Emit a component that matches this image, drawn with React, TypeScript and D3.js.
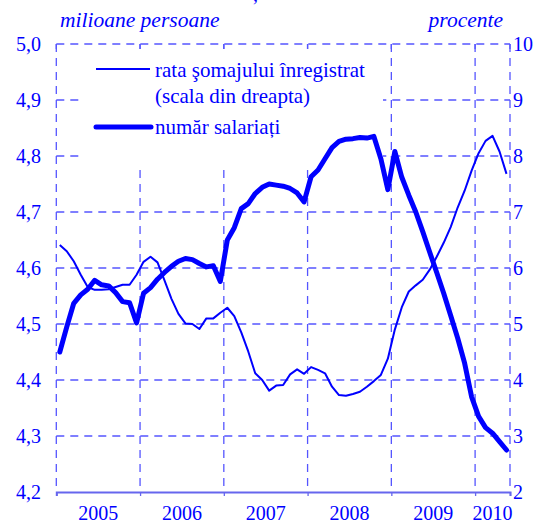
import React, { useEffect, useRef } from "react";
import * as d3 from "d3";

// monthly, Jan 2005 - May 2010
const employees = [
  4.45, 4.495, 4.537, 4.552, 4.562, 4.578, 4.57, 4.568, 4.556, 4.54, 4.538, 4.502,
  4.555, 4.565, 4.58, 4.592, 4.603, 4.612, 4.617, 4.615, 4.608, 4.602, 4.604, 4.576,
  4.65, 4.672, 4.706, 4.715, 4.733, 4.744, 4.75, 4.748, 4.746, 4.742, 4.734, 4.718,
  4.763, 4.775, 4.795, 4.815, 4.826, 4.83, 4.831, 4.833, 4.832, 4.835, 4.795, 4.74,
  4.808, 4.762, 4.73, 4.7, 4.665, 4.628, 4.592, 4.555, 4.515, 4.475, 4.43, 4.37,
  4.335, 4.315, 4.305, 4.29, 4.275,
];
const unemployment = [
  6.41, 6.3, 6.12, 5.88, 5.66, 5.61, 5.61, 5.62, 5.66, 5.7, 5.7, 5.88,
  6.11, 6.2, 6.1, 5.78, 5.45, 5.18, 5.01, 5.0, 4.91, 5.1, 5.1, 5.2,
  5.29, 5.14, 4.85, 4.51, 4.12, 4.0, 3.81, 3.9, 3.91, 4.1, 4.19, 4.11,
  4.23, 4.18, 4.12, 3.88, 3.73, 3.72, 3.75, 3.79, 3.88, 3.98, 4.09, 4.38,
  4.9, 5.3, 5.58, 5.69, 5.79, 5.97, 6.2, 6.45, 6.73, 7.08, 7.38, 7.74,
  8.05, 8.27, 8.36, 8.08, 7.68,
];
const years = ["2005", "2006", "2007", "2008", "2009", "2010"];
const leftTicks = [4.2, 4.3, 4.4, 4.5, 4.6, 4.7, 4.8, 4.9, 5.0];
const rightTicks = [2, 3, 4, 5, 6, 7, 8, 9, 10];
const legendLabels = ["rata şomajului înregistrat", "(scala din dreapta)", "număr salariați"];

const BLUE = "#0000ff";
const GRID = "#5555ff";
const FONT = "'Liberation Serif', 'Times New Roman', serif";

export default function App() {
  const ref = useRef<SVGSVGElement>(null);

  useEffect(() => {
    const svg = d3.select(ref.current);
    svg.selectAll("*").remove();

    const left = 56.3, right = 510, top = 44, bottom = 492;
    const nMonths = 65;
    const x = d3.scaleLinear().domain([0, nMonths]).range([left, right]);
    const yL = d3.scaleLinear().domain([4.2, 5.0]).range([bottom, top]);
    const yR = d3.scaleLinear().domain([2, 10]).range([bottom, top]);
    const bounds = years.map((_, i) => i * 12);

    const grid = svg.append("g").attr("stroke", GRID).attr("stroke-width", 1.3)
      .attr("stroke-dasharray", "8,6").attr("fill", "none");
    leftTicks.slice(1, -1).forEach(v => {
      grid.append("line").attr("x1", left).attr("x2", right).attr("y1", yL(v)).attr("y2", yL(v));
    });
    bounds.slice(1).concat([0, nMonths]).forEach(m => {
      grid.append("line").attr("x1", x(m)).attr("x2", x(m)).attr("y1", top).attr("y2", bottom);
    });

    // legend box hides the grid behind it
    svg.append("rect").attr("x", 80).attr("y", 49).attr("width", 303).attr("height", 119).attr("fill", "#fff");

    svg.append("line").attr("x1", left).attr("x2", right).attr("y1", top).attr("y2", top)
      .attr("stroke", GRID).attr("stroke-width", 1.3).attr("stroke-dasharray", "8,6");
    bounds.concat([nMonths]).forEach(m => {
      svg.append("line").attr("x1", x(m)).attr("x2", x(m)).attr("y1", top).attr("y2", top + 5)
        .attr("stroke", GRID).attr("stroke-width", 1.3);
    });

    // bottom axis
    const xAxis = d3.axisBottom(x).tickValues(bounds.concat([nMonths])).tickSize(4).tickFormat(() => "");
    const gx = svg.append("g").attr("transform", `translate(0,${bottom})`).call(xAxis);
    gx.select(".domain").attr("stroke", "#6666ee").attr("stroke-width", 2);
    gx.selectAll(".tick line").attr("stroke", "#6666ee").attr("stroke-width", 1.3);

    const text = svg.append("g").attr("fill", BLUE).attr("font-family", FONT).attr("font-size", 20);
    years.forEach((yr, i) => {
      const m0 = i * 12, m1 = Math.min((i + 1) * 12, nMonths);
      text.append("text").attr("x", x((m0 + m1) / 2)).attr("y", 520).attr("text-anchor", "middle").text(yr);
    });
    leftTicks.forEach(v => {
      text.append("text").attr("x", 41).attr("y", yL(v) + 7).attr("text-anchor", "end")
        .text(v.toFixed(1).replace(".", ","));
    });
    rightTicks.forEach(v => {
      text.append("text").attr("x", 513).attr("y", yR(v) + 7).text(String(v));
    });
    text.append("text").attr("x", 60).attr("y", 27).attr("font-size", 21.5).attr("font-style", "italic").text("milioane persoane");
    text.append("text").attr("x", 503).attr("y", 27).attr("font-size", 21.5).attr("font-style", "italic").attr("text-anchor", "end").text("procente");
    // the cut-off title above the chart only shows a cedilla
    text.append("text").attr("x", 253).attr("y", 1).text(",");

    // legend
    const lg = svg.append("g");
    lg.append("line").attr("x1", 96).attr("x2", 150).attr("y1", 69).attr("y2", 69).attr("stroke", BLUE).attr("stroke-width", 2);
    lg.append("line").attr("x1", 96).attr("x2", 151).attr("y1", 127).attr("y2", 127).attr("stroke", BLUE).attr("stroke-width", 5).attr("stroke-linecap", "round");
    text.append("text").attr("x", 155).attr("y", 77).attr("font-size", 21).text(legendLabels[0]);
    text.append("text").attr("x", 155).attr("y", 103).attr("font-size", 21).text(legendLabels[1]);
    text.append("text").attr("x", 155).attr("y", 134).attr("font-size", 21).text(legendLabels[2]);

    const thin = d3.line<number>().x((_, i) => x(i + 0.5)).y(d => yR(d));
    const thick = d3.line<number>().x((_, i) => x(i + 0.5)).y(d => yL(d));
    svg.append("path").datum(unemployment).attr("d", thin).attr("fill", "none")
      .attr("stroke", BLUE).attr("stroke-width", 2).attr("stroke-linejoin", "round");
    svg.append("path").datum(employees).attr("d", thick).attr("fill", "none")
      .attr("stroke", BLUE).attr("stroke-width", 5).attr("stroke-linejoin", "round").attr("stroke-linecap", "round");
  }, []);

  return (
    <svg ref={ref} width={549} height={526}
      style={{ position: "absolute", left: 0, top: 0, background: "#fff" }} />
  );
}
